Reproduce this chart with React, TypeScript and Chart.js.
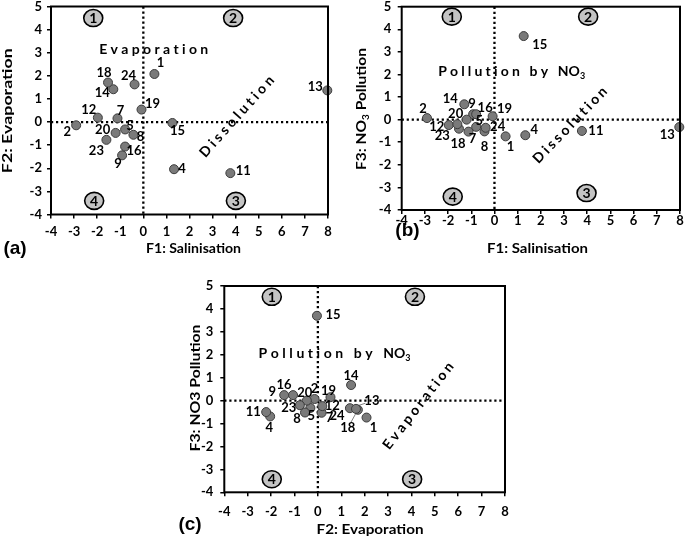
import React, { useEffect, useRef } from 'react';
import { Chart, registerables } from 'chart.js';
Chart.register(...registerables);

// ---------- data ----------
const sampleIds = ['1', '2', '4', '5', '7', '8', '9', '11', '12', '13', '14', '15', '16', '18', '19', '20', '23', '24'];
const f1Salinisation = [0.48, -2.91, 1.33, -0.79, -1.12, -0.43, -0.92, 3.77, -1.97, 7.97, -1.30, 1.26, -0.79, -1.53, -0.08, -1.20, -1.60, -0.38];
const f2Evaporation = [2.08, -0.14, -2.04, -0.32, 0.16, -0.55, -1.44, -2.21, 0.19, 1.37, 1.42, -0.04, -1.06, 1.71, 0.54, -0.47, -0.77, 1.63];
const f3NO3Pollution = [-0.74, 0.07, -0.69, -0.32, -0.53, -0.52, 0.24, -0.50, -0.24, -0.33, 0.68, 3.70, 0.24, -0.40, 0.15, 0.00, -0.20, -0.36];
const xRange = [-4, 8];
const yRange = [-4, 5];
const quadrantNames = ['1', '2', '3', '4'];

// ---------- label placement (pixel offsets from each point, same order as sampleIds) ----------
const labelOffsetsA = [[6, -11], [-9, 7], [8, 0], [5, -4], [3, -8], [7, 2], [-4, 8], [13, -2], [-9, -8], [-12, -4], [-11, 4], [5, 8], [9, 4], [-4, -10], [11, -6], [-13, -3], [-10, 11], [-6, -9]];
const labelOffsetsB = [[5, 10], [-4, -9], [9, -5], [3, -6], [4, 7], [0, 15], [-1, -10], [14, 0], [-12, 2], [-12, 8], [-14, -5], [16, 9], [9, -6], [-1, 15], [12, -7], [-11, -6], [-15, 12], [12, -1]];
const labelOffsetsC = [[7, 10], [0, -10], [-1, 11], [1, 8], [8, 5], [-8, 6], [-12, -3], [-13, 0], [10, 0], [22, -7], [0, -9], [16, -1], [-9, -10], [-10, 18], [-2, -6], [-2, -8], [-11, 3], [-19, 7]];
const leadersC = ['13', '18'];

const FONT = 'Lato, "Open Sans", "Liberation Sans", sans-serif';
const PANEL_FONT = '"Liberation Sans", Arial, sans-serif';

type Part = { t: string; sub?: boolean; tight?: boolean };

function drawFitted(ctx: CanvasRenderingContext2D, parts: Part[], cx: number, cy: number, targetW: number, angle: number, size: number) {
  ctx.save();
  ctx.translate(cx, cy);
  ctx.rotate(angle);
  const fonts = parts.map(p => `bold ${p.sub ? Math.round(size * 0.65) : size}px ${FONT}`);
  const widths = parts.map((p, i) => { ctx.font = fonts[i]; return ctx.measureText(p.t).width; });
  const total = widths.reduce((a, b) => a + b, 0);
  ctx.scale(targetW / total, 1);
  let x = -total / 2;
  ctx.textBaseline = 'middle';
  ctx.textAlign = 'left';
  ctx.fillStyle = '#000';
  parts.forEach((p, i) => {
    ctx.font = fonts[i];
    ctx.fillText(p.t, x, p.sub ? size * 0.32 : 0);
    x += widths[i];
  });
  ctx.restore();
}

function drawSpaced(ctx: CanvasRenderingContext2D, parts: Part[], cx: number, cy: number, targetW: number, angle: number, size: number) {
  const items: { ch: string; sub: boolean; tight: boolean }[] = [];
  parts.forEach(p => { for (const ch of p.t) items.push({ ch, sub: !!p.sub, tight: !!p.tight }); });
  ctx.save();
  ctx.translate(cx, cy);
  ctx.rotate(angle);
  const fonts = items.map(it => `bold ${it.sub ? Math.round(size * 0.65) : size}px ${FONT}`);
  const widths = items.map((it, i) => { ctx.font = fonts[i]; return ctx.measureText(it.ch).width; });
  const natural = widths.reduce((a, b) => a + b, 0);
  const gapW: number[] = items.map((it, i) => (i === items.length - 1 ? 0 : (it.tight && items[i + 1].tight ? 0 : 1)));
  const gsum = gapW.reduce((a, b) => a + b, 0);
  const s = gsum > 0 ? (targetW - natural) / gsum : 0;
  let x = -targetW / 2;
  ctx.textBaseline = 'middle';
  ctx.textAlign = 'left';
  ctx.fillStyle = '#000';
  items.forEach((it, i) => {
    ctx.font = fonts[i];
    ctx.fillText(it.ch, x, it.sub ? size * 0.32 : 0);
    x += widths[i] + gapW[i] * s;
  });
  ctx.restore();
}

type Note = { parts: Part[]; x: number; y: number; w: number; angle: number };
type Panel = {
  left: number; top: number; width: number; height: number;
  padTop: number; padRight: number; yWidth: number; xHeight: number;
  xTickPad: number; yTickPad: number;
  xs: number[]; ys: number[]; offsets: number[][]; leaders: string[];
  xTitle: { parts: Part[]; cx: number; cy: number; w: number };
  yTitle: { parts: Part[]; cx: number; cy: number; w: number };
  tag: { text: string; cx: number; cy: number };
  quads: number[][];
  notes: Note[];
};

const DEG = Math.PI / 180;

const panels: Panel[] = [
  {
    left: 0, top: 0, width: 340, height: 270,
    padTop: 6.5, padRight: 12, yWidth: 51, xHeight: 55.5, xTickPad: 6, yTickPad: 5,
    xs: f1Salinisation, ys: f2Evaporation, offsets: labelOffsetsA, leaders: [],
    xTitle: { parts: [{ t: 'F1: Salinisation' }], cx: 193.5, cy: 248, w: 95 },
    yTitle: { parts: [{ t: 'F2: Evaporation' }], cx: 7.5, cy: 110.7, w: 125 },
    tag: { text: '(a)', cx: 15, cy: 249 },
    quads: [[-2.17, 4.5], [3.89, 4.5], [4.01, -3.41], [-2.13, -3.41]],
    notes: [
      { parts: [{ t: 'Evaporation' }], x: 0.45, y: 3.16, w: 109, angle: 0 },
      { parts: [{ t: 'Dissolution' }], x: 4.05, y: 0.24, w: 104, angle: -48 * DEG },
    ],
  },
  {
    left: 340, top: 0, width: 345, height: 270,
    padTop: 6.7, padRight: 5, yWidth: 61.7, xHeight: 60, xTickPad: -1, yTickPad: 6.5,
    xs: f1Salinisation, ys: f3NO3Pollution, offsets: labelOffsetsB, leaders: [],
    xTitle: { parts: [{ t: 'F1: Salinisation' }], cx: 197.5, cy: 248, w: 101 },
    yTitle: { parts: [{ t: 'F3: NO' }, { t: '3', sub: true }, { t: ' Pollution' }], cx: 21.7, cy: 109, w: 122 },
    tag: { text: '(b)', cx: 67.5, cy: 231 },
    quads: [[-1.84, 4.56], [4.04, 4.56], [3.97, -3.25], [-1.8, -3.41]],
    notes: [
      { parts: [{ t: 'Pollution by ' }, { t: 'NO', tight: true }, { t: '3', sub: true, tight: true }], x: 0.74, y: 2.12, w: 147, angle: 0 },
      { parts: [{ t: 'Dissolution' }], x: 3.26, y: -0.24, w: 100, angle: -46 * DEG },
    ],
  },
  {
    left: 170, top: 250, width: 340, height: 288,
    padTop: 36, padRight: 5, yWidth: 54.3, xHeight: 45.7, xTickPad: 8, yTickPad: 7,
    xs: f2Evaporation, ys: f3NO3Pollution, offsets: labelOffsetsC, leaders: leadersC,
    xTitle: { parts: [{ t: 'F2: Evaporation' }], cx: 200, cy: 279, w: 107 },
    yTitle: { parts: [{ t: 'F3: NO3 Pollution' }], cx: 25, cy: 138, w: 127 },
    tag: { text: '(c)', cx: 20, cy: 275 },
    quads: [[-1.97, 4.53], [4.15, 4.53], [4.03, -3.43], [-1.97, -3.43]],
    notes: [
      { parts: [{ t: 'Pollution by ' }, { t: 'NO', tight: true }, { t: '3', sub: true, tight: true }], x: 0.71, y: 2.06, w: 152, angle: 0 },
      { parts: [{ t: 'Evaporation' }], x: 4.29, y: -0.23, w: 106, angle: -52 * DEG },
    ],
  },
];

const overlayPlugin = {
  id: 'overlay',
  beforeDatasetsDraw(chart: any, _args: any, opts: any) {
    const p: Panel = opts.panel;
    const { ctx, chartArea: ca } = chart;
    const xs = chart.scales.x, ys = chart.scales.y;
    ctx.save();
    // dotted zero lines
    ctx.strokeStyle = '#000';
    ctx.lineWidth = 2.3;
    ctx.setLineDash([2.2, 2.8]);
    const x0 = xs.getPixelForValue(0), y0 = ys.getPixelForValue(0);
    ctx.beginPath();
    ctx.moveTo(x0, ca.top); ctx.lineTo(x0, ca.bottom);
    ctx.moveTo(ca.left, y0); ctx.lineTo(ca.right, y0);
    ctx.stroke();
    ctx.setLineDash([]);
    // quadrant markers
    p.quads.forEach((q, i) => {
      const cx = xs.getPixelForValue(q[0]), cy = ys.getPixelForValue(q[1]);
      ctx.beginPath();
      ctx.ellipse(cx, cy, 9.5, 8.5, 0, 0, Math.PI * 2);
      ctx.fillStyle = '#c4c4c4';
      ctx.fill();
      ctx.lineWidth = 1.6;
      ctx.strokeStyle = '#000';
      ctx.stroke();
      ctx.fillStyle = '#000';
      ctx.font = `bold 14px ${FONT}`;
      ctx.textAlign = 'center';
      ctx.textBaseline = 'middle';
      ctx.fillText(quadrantNames[i], cx, cy + 0.5);
    });
    // annotations
    p.notes.forEach(n => {
      drawSpaced(ctx, n.parts, xs.getPixelForValue(n.x), ys.getPixelForValue(n.y), n.w, n.angle, 14);
    });
    // leader lines
    const meta = chart.getDatasetMeta(0);
    ctx.strokeStyle = '#7f7f7f';
    ctx.lineWidth = 1;
    p.leaders.forEach(id => {
      const i = sampleIds.indexOf(id);
      const el = meta.data[i];
      const [dx, dy] = p.offsets[i];
      ctx.beginPath();
      ctx.moveTo(el.x, el.y);
      ctx.lineTo(el.x + dx * 0.7, el.y + dy * 0.7);
      ctx.stroke();
    });
    ctx.restore();
  },
  afterDatasetsDraw(chart: any, _args: any, opts: any) {
    const p: Panel = opts.panel;
    const { ctx } = chart;
    const meta = chart.getDatasetMeta(0);
    ctx.save();
    ctx.fillStyle = '#000';
    ctx.font = `bold 13px ${FONT}`;
    ctx.textAlign = 'center';
    ctx.textBaseline = 'middle';
    meta.data.forEach((el: any, i: number) => {
      const [dx, dy] = p.offsets[i];
      ctx.fillText(sampleIds[i], el.x + dx, el.y + dy);
    });
    ctx.restore();
  },
  afterDraw(chart: any, _args: any, opts: any) {
    const p: Panel = opts.panel;
    const { ctx, chartArea: ca } = chart;
    ctx.save();
    ctx.strokeStyle = '#000';
    ctx.lineWidth = 2;
    ctx.strokeRect(ca.left, ca.top, ca.right - ca.left, ca.bottom - ca.top);
    drawFitted(ctx, p.xTitle.parts, p.xTitle.cx, p.xTitle.cy, p.xTitle.w, 0, 14);
    drawFitted(ctx, p.yTitle.parts, p.yTitle.cx, p.yTitle.cy, p.yTitle.w, -Math.PI / 2, 14);
    ctx.font = `bold 19px ${PANEL_FONT}`;
    ctx.fillStyle = '#000';
    ctx.textAlign = 'center';
    ctx.textBaseline = 'middle';
    ctx.fillText(p.tag.text, p.tag.cx, p.tag.cy);
    ctx.restore();
  },
};

function makeConfig(p: Panel): any {
  const tickFont = { family: FONT, size: 13, weight: 'bold' as const };
  return {
    type: 'scatter',
    data: {
      datasets: [{
        data: p.xs.map((x, i) => ({ x, y: p.ys[i] })),
        pointRadius: 4.5,
        pointHoverRadius: 4.5,
        backgroundColor: '#7a7a7a',
        borderColor: '#3c3c3c',
        borderWidth: 1,
        clip: false,
      }],
    },
    options: {
      responsive: false,
      animation: false,
      events: [],
      layout: { autoPadding: false, padding: { top: p.padTop, right: p.padRight, left: 0, bottom: 0 } },
      plugins: { legend: { display: false }, tooltip: { enabled: false }, overlay: { panel: p } },
      scales: {
        x: {
          type: 'linear', min: xRange[0], max: xRange[1],
          afterFit: (s: any) => { s.height = p.xHeight; s.paddingLeft = 0; s.paddingRight = 0; },
          ticks: { stepSize: 1, padding: p.xTickPad, font: tickFont, color: '#000', maxRotation: 0, autoSkip: false },
          grid: { drawOnChartArea: false, drawTicks: true, tickLength: 4, color: '#000', lineWidth: 1.5 },
          border: { display: false },
        },
        y: {
          type: 'linear', min: yRange[0], max: yRange[1],
          afterFit: (s: any) => { s.width = p.yWidth; s.paddingTop = 0; s.paddingBottom = 0; },
          ticks: { stepSize: 1, padding: p.yTickPad, font: tickFont, color: '#000', autoSkip: false },
          grid: { drawOnChartArea: false, drawTicks: true, tickLength: 4, color: '#000', lineWidth: 1.5 },
          border: { display: false },
        },
      },
    },
    plugins: [overlayPlugin],
  };
}

export default function App() {
  const r0 = useRef<HTMLCanvasElement>(null);
  const r1 = useRef<HTMLCanvasElement>(null);
  const r2 = useRef<HTMLCanvasElement>(null);
  const refs = [r0, r1, r2];
  useEffect(() => {
    const charts = panels.map((p, i) => new Chart(refs[i].current as HTMLCanvasElement, makeConfig(p)));
    return () => charts.forEach(c => c.destroy());
  }, []);
  return (
    <div style={{ position: 'absolute', left: 0, top: 0, width: 685, height: 538, background: '#fff', overflow: 'hidden' }}>
      {panels.map((p, i) => (
        <canvas
          key={i}
          ref={refs[i]}
          width={p.width}
          height={p.height}
          style={{ position: 'absolute', left: p.left, top: p.top, width: p.width, height: p.height, display: 'block' }}
        />
      ))}
    </div>
  );
}
